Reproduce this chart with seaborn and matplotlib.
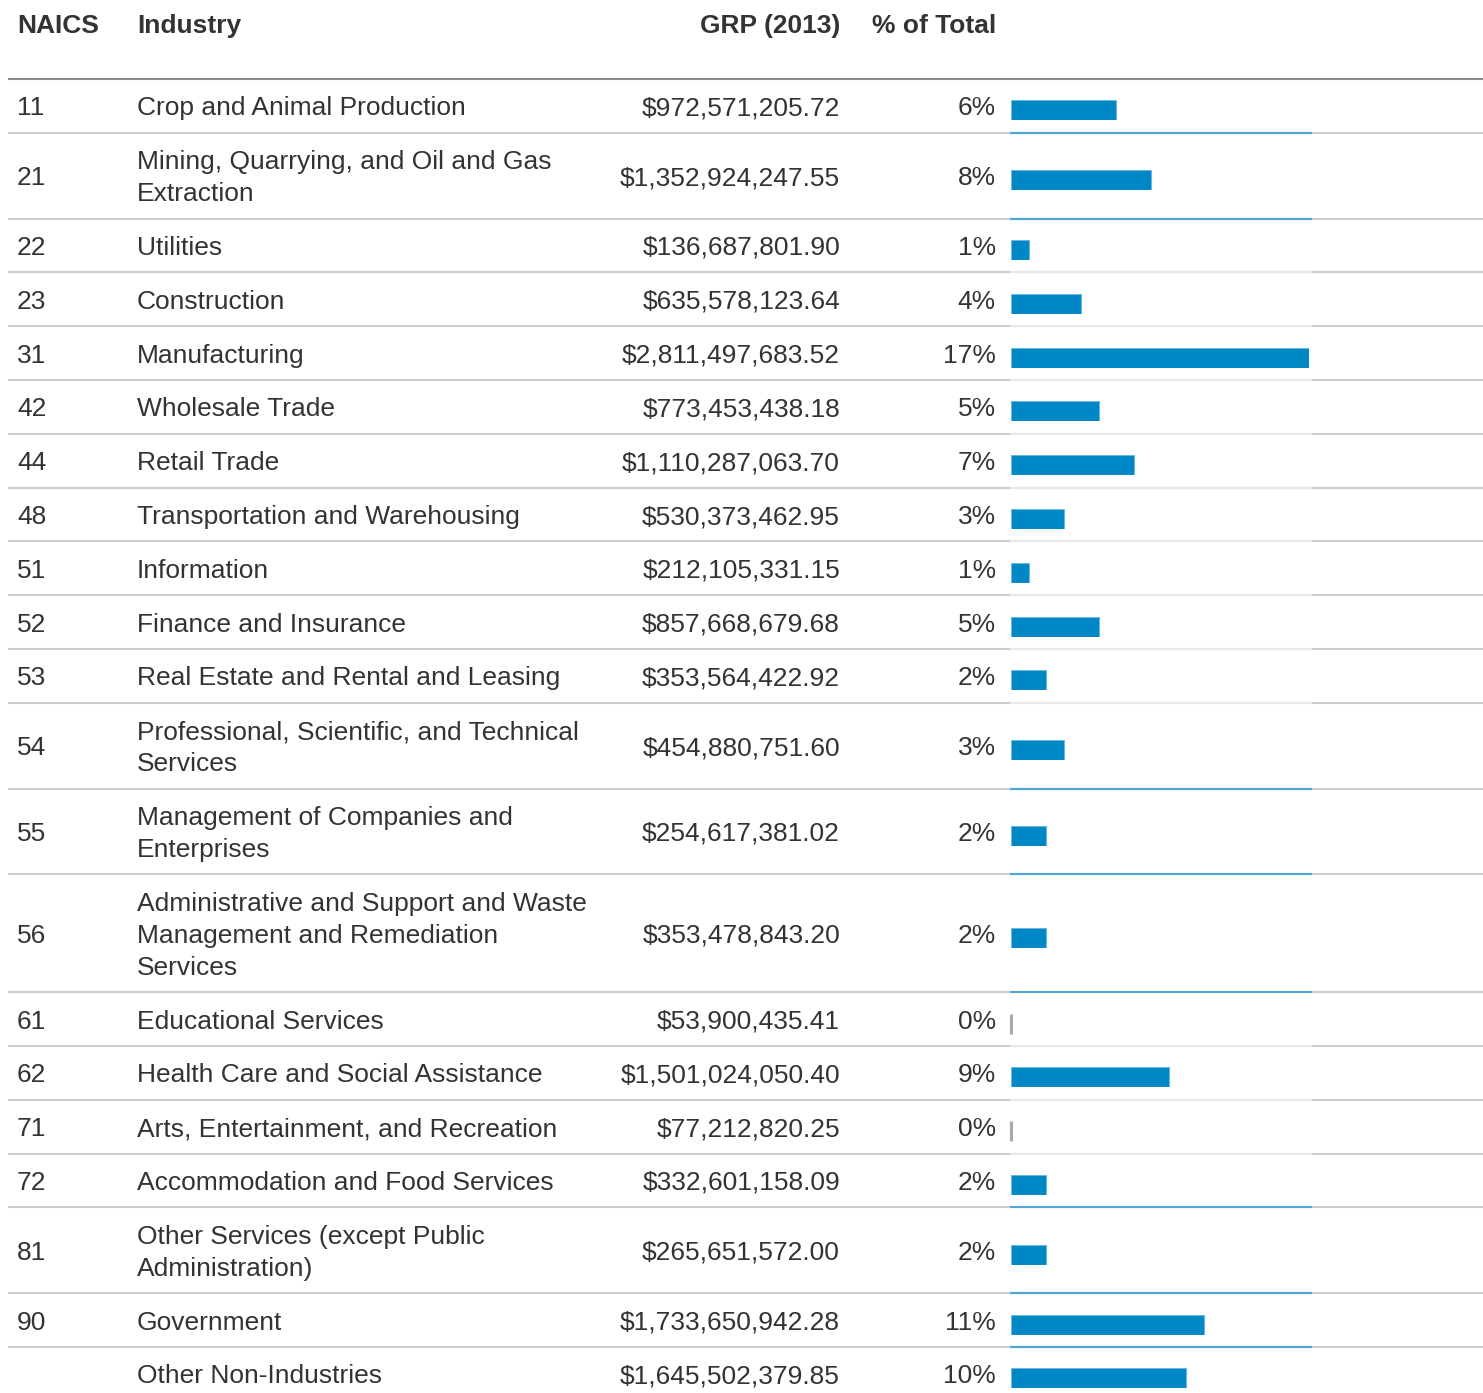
import matplotlib
matplotlib.use("Agg")
import matplotlib.pyplot as plt
import seaborn as sns

# table data
naics = ["11", "21", "22", "23", "31", "42", "44", "48", "51", "52", "53",
         "54", "55", "56", "61", "62", "71", "72", "81", "90", ""]
industry = [
    "Crop and Animal Production",
    "Mining, Quarrying, and Oil and Gas\nExtraction",
    "Utilities",
    "Construction",
    "Manufacturing",
    "Wholesale Trade",
    "Retail Trade",
    "Transportation and Warehousing",
    "Information",
    "Finance and Insurance",
    "Real Estate and Rental and Leasing",
    "Professional, Scientific, and Technical\nServices",
    "Management of Companies and\nEnterprises",
    "Administrative and Support and Waste\nManagement and Remediation\nServices",
    "Educational Services",
    "Health Care and Social Assistance",
    "Arts, Entertainment, and Recreation",
    "Accommodation and Food Services",
    "Other Services (except Public\nAdministration)",
    "Government",
    "Other Non-Industries",
]
grp = [972571205.72, 1352924247.55, 136687801.90, 635578123.64, 2811497683.52,
       773453438.18, 1110287063.70, 530373462.95, 212105331.15, 857668679.68,
       353564422.92, 454880751.60, 254617381.02, 353478843.20, 53900435.41,
       1501024050.40, 77212820.25, 332601158.09, 265651572.00, 1733650942.28,
       1645502379.85]
pct = [6, 8, 1, 4, 17, 5, 7, 3, 1, 5, 2, 3, 2, 2, 0, 9, 0, 2, 2, 11, 10]
headers = ["NAICS", "Industry", "GRP (2013)", "% of Total"]

# rows whose bottom rule shows the blue strip under the bar column
blue_rule_rows = {0, 1, 11, 12, 13, 17, 18, 19}

W, H = 1483, 1393
TXT = "#333333"
BAR = "#0087c5"

sns.set_theme(style="white")
plt.rcParams["font.family"] = ["Liberation Sans", "DejaVu Sans"]

fig = plt.figure(figsize=(W / 100, H / 100), dpi=100)
ax = fig.add_axes([0, 0, 1, 1])
ax.set_xlim(0, W)
ax.set_ylim(H, 0)
ax.axis("off")

fs = 19
x_naics, x_ind, x_grp, x_pct = 17, 137, 840, 996
bar_x0, bar_w, bar_max = 1011, 298, 17

# header
hy = 26
for x, label, ha in zip([x_naics, x_ind, x_grp, x_pct], headers,
                        ["left", "left", "right", "right"]):
    ax.text(x, hy, label, ha=ha, va="center", fontsize=fs,
            fontweight="bold", color=TXT)
ax.hlines(79, 8, W, color="#8c8c8c", lw=1.5)

row_h, line_h = 53.8, 32
top = 79
for i in range(len(naics)):
    lines = industry[i].split("\n")
    h = row_h + line_h * (len(lines) - 1)
    cy = top + h / 2 + 2.5
    ax.text(x_naics, cy, naics[i], ha="left", va="center", fontsize=fs, color=TXT)
    y0 = cy - line_h * (len(lines) - 1) / 2
    for k, ln in enumerate(lines):
        ax.text(x_ind, y0 + k * line_h, ln, ha="left", va="center",
                fontsize=fs, color=TXT)
    ax.text(x_grp, cy, f"${grp[i]:,.2f}", ha="right", va="center",
            fontsize=fs, color=TXT)
    ax.text(x_pct, cy, f"{pct[i]}%", ha="right", va="center",
            fontsize=fs, color=TXT)

    # inline bar
    by = cy + 2
    bax = fig.add_axes([bar_x0 / W, 1 - (by + 10) / H, bar_w / W, 20 / H])
    if pct[i] > 0:
        sns.barplot(x=[pct[i]], y=["r"], orient="h", color=BAR, width=1,
                    saturation=1, errorbar=None, edgecolor="#6ab8e0",
                    linewidth=0.8, ax=bax)
    else:
        sns.barplot(x=[pct[i]], y=["r"], orient="h", color="#a8a8a8", width=1,
                    saturation=1, errorbar=None, edgecolor="#a8a8a8",
                    linewidth=2.2, ax=bax)
        for p in bax.patches:
            p.set_clip_on(False)
    bax.set_xlim(0, bar_max)
    bax.set_ylim(0.5, -0.5)
    bax.axis("off")

    bottom = top + h
    if i < len(naics) - 1:
        ax.hlines(bottom, 8, W, color="#cccccc", lw=1.5)
        seg = "#4fa6d4" if i in blue_rule_rows else "#e9e9e9"
        ax.hlines(bottom, 1010, 1312, color=seg, lw=1.5)
    top = bottom

fig.savefig("out.png", dpi=100, facecolor="white")
